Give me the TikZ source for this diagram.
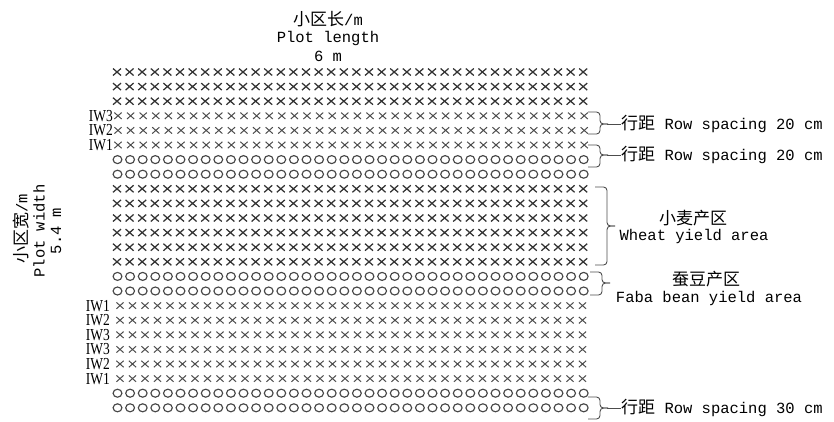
\documentclass[tikz,border=0pt]{standalone}
\usepackage{fontspec}
\usepackage{graphicx}
\setmainfont{Liberation Mono}
\newfontfamily\cjk{Noto Sans CJK SC}
\newfontfamily\lserif{Liberation Serif}
\newcommand\zh[1]{{\cjk\fontsize{17}{18}\selectfont #1}}
\newcommand\iwtxt[1]{\scalebox{0.9}[1.12]{#1}}
\tikzset{
  xbold/.style={line width=1.25pt, draw=black!80},
  xlight/.style={line width=1.0pt, draw=black!70},
  omark/.style={line width=1.15pt, draw=black!72},
  lbl/.style={inner sep=0pt, font=\fontsize{15.5}{18}\selectfont},
  iw/.style={inner sep=0pt, anchor=east, font=\lserif\fontsize{15}{15}\selectfont},
  brc/.style={line width=0.9pt, draw=black!70, rounded corners=3.5pt},
}
% #1 name, #2 x0, #3 top, #4 bottom, #5 tip y
\newcommand\rbr[5]{%
  \coordinate (#1t) at (#2,#3);
  \coordinate (#1b) at (#2,#4);
  \coordinate (#1m) at (#2+12,#5);
  \draw[brc] (#1t) -| (#1m) -- ++(8,0);
  \draw[brc] (#1b) -| (#1m) -- ++(8,0);
  \coordinate (#1tip) at (#2+19,#5);
}
\begin{document}
\begin{tikzpicture}[x=1pt,y=-1pt]
\useasboundingbox (0,0) rectangle (834,421);
% plot rows
\foreach \r/\t in {0/b,1/b,2/b,3/l,4/l,5/l,6/o,7/o,8/b,9/b,10/b,11/b,12/b,13/b,14/o,15/o,16/L,17/L,18/L,19/L,20/L,21/L,22/o,23/o}{
  \pgfmathsetmacro\yy{72+\r*14.6}
  \if\t o
    \draw[omark] foreach \c in {0,...,37} {(117.5+\c*12.6,\yy) ellipse [x radius=4.4, y radius=4.0]};
  \else\if\t b
    \draw[xbold] foreach \c in {0,...,37} {(117+\c*12.6-4,\yy-3.5) -- ++(8,7) ++(0,-7) -- ++(-8,7)};
  \else\if\t l
    \draw[xlight] foreach \c in {0,...,37} {(118+\c*12.6-3.6,\yy-3.2) -- ++(7.2,6.4) ++(0,-6.4) -- ++(-7.2,6.4)};
  \else
    \draw[xlight] foreach \c in {0,...,37} {(120+\c*12.5-3.6,\yy-3.2) -- ++(7.2,6.4) ++(0,-6.4) -- ++(-7.2,6.4)};
  \fi\fi\fi
}
% IW labels
\node[iw] (u3) at (113,115.8) {\iwtxt{IW3}};
\node[iw] (u2) at (113,130.4) {\iwtxt{IW2}};
\node[iw] (u1) at (113,145.0) {\iwtxt{IW1}};
\node[iw] (d1) at (110,305.6) {\iwtxt{IW1}};
\node[iw] (d2) at (110,320.2) {\iwtxt{IW2}};
\node[iw] (d3) at (110,334.8) {\iwtxt{IW3}};
\node[iw] (d4) at (110,349.4) {\iwtxt{IW3}};
\node[iw] (d5) at (110,364.0) {\iwtxt{IW2}};
\node[iw] (d6) at (110,378.6) {\iwtxt{IW1}};
% top labels
\node[lbl] (t1) at (328,19) {\zh{小区长}/m};
\node[lbl] (t2) at (328,38) {Plot length};
\node[lbl] (t3) at (328,56) {6 m};
% left labels
\node[lbl,rotate=90] (l1) at (21,229) {\zh{小区宽}/m};
\node[lbl,rotate=90] (l2) at (39,231) {Plot width};
\node[lbl,rotate=90] (l3) at (56,231) {5.4 m};
% right labels
\node[lbl,anchor=west] (rs1) at (621,124) {\zh{行距} Row spacing 20 cm};
\node[lbl,anchor=west] (rs2) at (621,155) {\zh{行距} Row spacing 20 cm};
\node[lbl] (wh1) at (693,218) {\zh{小麦产区}};
\node[lbl] (wh2) at (694,236) {Wheat yield area};
\node[lbl] (fb1) at (706,279) {\zh{蚕豆产区}};
\node[lbl] (fb2) at (709,298) {Faba bean yield area};
\node[lbl,anchor=west] (rs3) at (621,408) {\zh{行距} Row spacing 30 cm};
% braces
\rbr{ba}{588}{112}{134}{124}
\rbr{bb}{588}{145}{167}{155}
\rbr{bw}{595}{187}{265}{226}
\rbr{bf}{590}{272}{295}{283}
\rbr{bc}{588}{397}{419}{408}
\draw[brc] (batip) -- (rs1.west);
\draw[brc] (bbtip) -- (rs2.west);
\draw[brc] (bctip) -- (rs3.west);
\end{tikzpicture}
\end{document}
